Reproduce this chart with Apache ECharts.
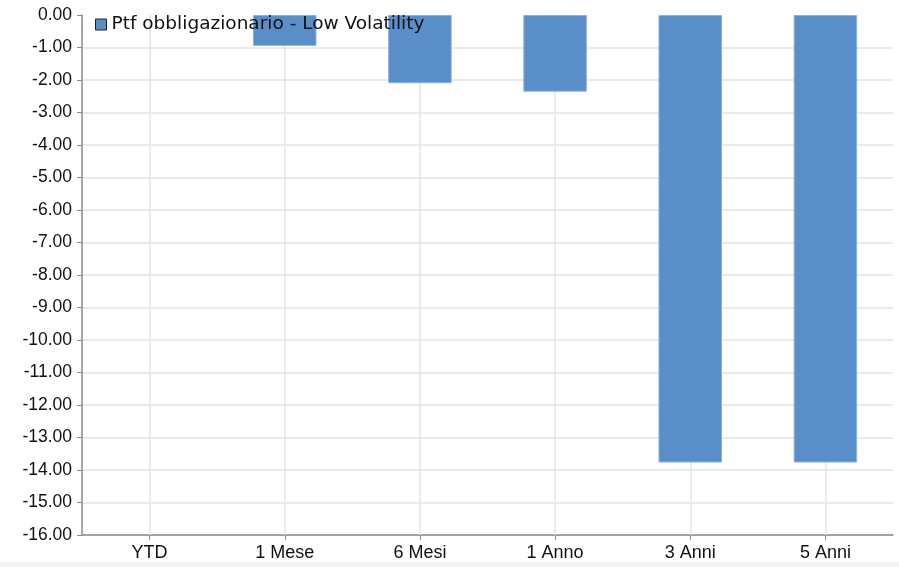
<!DOCTYPE html>
<html>
<head>
<meta charset="utf-8">
<script src="https://cdn.jsdelivr.net/npm/echarts@6/dist/echarts.min.js"></script>
<style>
html,body{margin:0;padding:0;background:#fff;}
#c{width:899px;height:567px;}
</style>
</head>
<body>
<div id="c"></div>
<script>
const categories = ["YTD", "1 Mese", "6 Mesi", "1 Anno", "3 Anni", "5 Anni"];
const seriesName = "Ptf obbligazionario - Low Volatility";
const values = [null, -0.95, -2.10, -2.36, -13.77, -13.77];
const yMin = -16, yMax = 0, yStep = 1;

const chart = echarts.init(document.getElementById('c'), null, {renderer: 'canvas'});
chart.setOption({
  animation: false,
  backgroundColor: '#ffffff',
  graphic: [{
    type: 'rect', left: 0, bottom: 0, z: -10,
    shape: {width: 899, height: 5},
    style: {fill: '#f4f4f4'}
  }],
  grid: {left: 82, right: 6, top: 15, bottom: 32, containLabel: false},
  legend: {
    data: [{name: seriesName, icon: 'rect'}],
    left: 90, top: 13,
    padding: [2, 5, 2, 5],
    itemWidth: 11, itemHeight: 11, itemGap: 8,
    itemStyle: {borderColor: '#222', borderWidth: 1},
    textStyle: {fontFamily: 'DejaVu Sans', fontSize: 18.5, color: '#111'}
  },
  xAxis: {
    type: 'category',
    data: categories,
    position: 'bottom',
    axisLine: {onZero: false, lineStyle: {color: '#8a8a8a', width: 1.5}},
    axisTick: {show: true, alignWithLabel: true, length: 5, lineStyle: {color: '#8a8a8a'}},
    axisLabel: {fontFamily: 'Liberation Sans', fontSize: 18, color: '#111', margin: 9},
    splitLine: {show: false},
    boundaryGap: true
  },
  yAxis: {
    type: 'value',
    min: yMin, max: yMax, interval: yStep,
    axisLine: {show: true, lineStyle: {color: '#8a8a8a', width: 1.5}},
    axisTick: {show: true, length: 5, lineStyle: {color: '#8a8a8a'}},
    axisLabel: {fontFamily: 'Liberation Sans', fontSize: 17.5, color: '#111', margin: 10,
      formatter: v => v.toFixed(2)},
    splitLine: {show: true, showMaxLine: false, lineStyle: {color: '#e3e3e3', width: 1.5}}
  },
  series: [{
    name: seriesName,
    type: 'bar',
    data: values,
    barWidth: '47%',
    itemStyle: {color: '#5a8ec8', borderColor: '#8cb3de', borderWidth: 1},
    markLine: {
      silent: true,
      z: 1,
      symbol: ['none', 'none'],
      label: {show: false},
      emphasis: {disabled: true},
      lineStyle: {color: '#e3e3e3', width: 1.5, type: 'solid'},
      data: categories.map(c => ({xAxis: c}))
    }
  }]
});
</script>
</body>
</html>
